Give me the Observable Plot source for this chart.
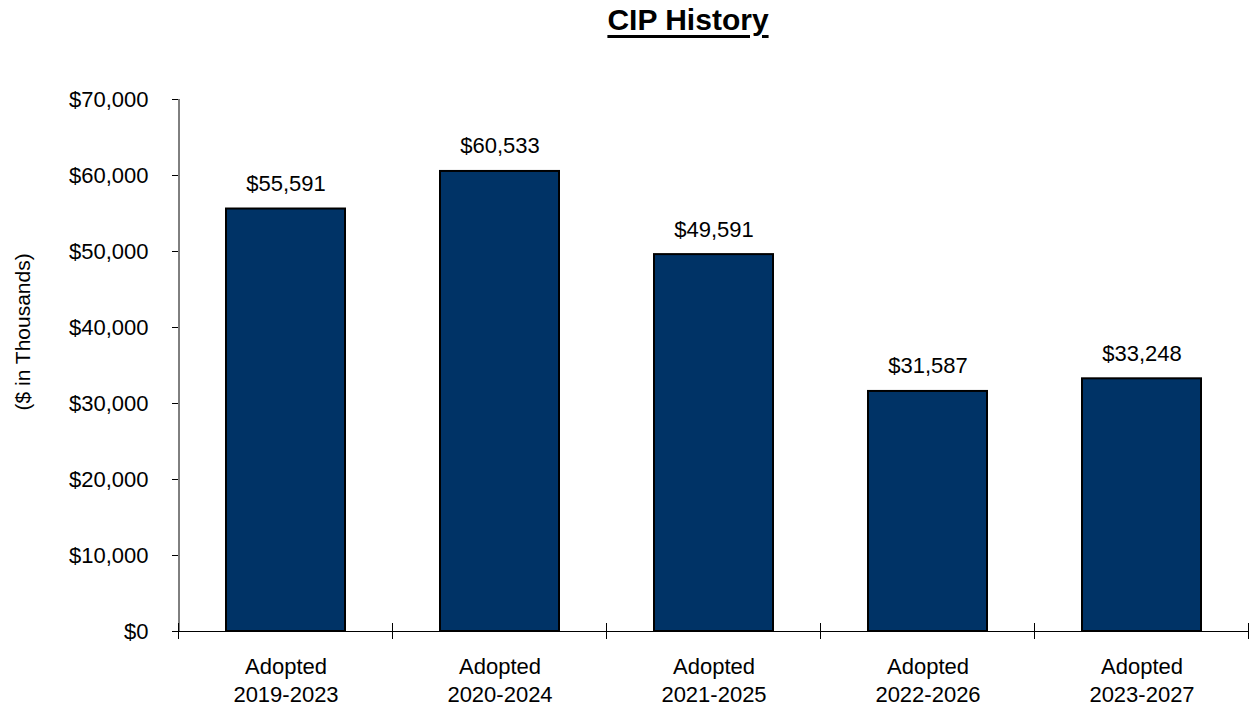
<!DOCTYPE html>
<html>
<head>
<meta charset="utf-8">
<script src="https://cdn.jsdelivr.net/npm/d3@7"></script>
<script src="https://cdn.jsdelivr.net/npm/@observablehq/plot@0.6"></script>
<style>
  html, body { margin: 0; padding: 0; background: #fff; }
  body { width: 1250px; height: 710px; overflow: hidden; font-family: "Liberation Sans", Arial, sans-serif; }
  #title { height: 50px; box-sizing: border-box; padding-top: 3px; padding-left: 126px; width: 1250px; text-align: center;
    font-size: 30px; line-height: 34px; font-weight: bold; color: #000; }
  #title span { text-decoration: underline; text-decoration-thickness: 3px; text-underline-offset: 5px; }
</style>
</head>
<body>
<div id="title"><span>CIP History</span></div>
<div id="chart"></div>
<script>
const periods = ["2019-2023", "2020-2024", "2021-2025", "2022-2026", "2023-2027"];
const prefix = "Adopted";
const values = [55591, 60533, 49591, 31587, 33248];
const yTicks = [0, 10000, 20000, 30000, 40000, 50000, 60000, 70000];
const yTitle = "($ in Thousands)";

const data = periods.map((p, i) => ({period: p, value: values[i]}));
const fmt = d3.format("$,");
const font = "Liberation Sans, Arial, sans-serif";

const chart = Plot.plot({
  width: 1250,
  height: 660,
  marginTop: 49,
  marginBottom: 79,
  marginLeft: 178,
  marginRight: 2,
  style: {fontFamily: font, fontSize: "22px", color: "#000", background: "#fff"},
  x: {domain: periods, paddingInner: 0.445, paddingOuter: 0.2225, axis: null},
  y: {domain: [0, 70000], axis: null},
  marks: [
    Plot.barY(data, {x: "period", y: "value", fill: "#003366", stroke: "#000", strokeWidth: 2}),
    Plot.ruleY([0], {stroke: "#000", strokeWidth: 1}),
    Plot.axisY({ticks: yTicks, tickSize: 6, tickPadding: 24, tickFormat: fmt, fontSize: 22, stroke: "#000", fill: "#000", label: null}),
    Plot.text(data, {x: "period", y: "value", text: d => fmt(d.value), dy: -25, fontSize: 22, fill: "#000"}),
    Plot.text(periods, {x: d => d, frameAnchor: "bottom", text: d => prefix + "\n" + d, lineAnchor: "top", dy: 23, lineHeight: 1.27, fontSize: 22, fill: "#000"}),
    Plot.text([yTitle], {text: d => d, frameAnchor: "left", rotate: -90, dx: -155, dy: 45, fontSize: 21, fill: "#000"})
  ]
});

// axis lines & category boundary ticks using the library's scales
const sx = chart.scale("x");
const sy = chart.scale("y");
const svg = d3.select(chart.tagName.toLowerCase() === "svg" ? chart : chart.querySelector("svg"));
const y0 = sy.apply(0), yTop = sy.apply(70000);
const gap = (sx.step - sx.bandwidth) / 2;
const xLeft = sx.apply(periods[0]) - gap;
svg.append("line").attr("x1", xLeft + 0.5).attr("x2", xLeft + 0.5).attr("y1", yTop).attr("y2", y0)
  .attr("stroke", "#000").attr("stroke-width", 1);
const bounds = periods.map(p => sx.apply(p) - gap);
bounds.push(sx.apply(periods[periods.length - 1]) + sx.bandwidth + gap);
bounds.forEach(b => {
  svg.append("line").attr("x1", b).attr("x2", b).attr("y1", y0 - 8).attr("y2", y0 + 8)
    .attr("stroke", "#000").attr("stroke-width", 1);
});

document.getElementById("chart").appendChild(chart);
</script>
</body>
</html>
